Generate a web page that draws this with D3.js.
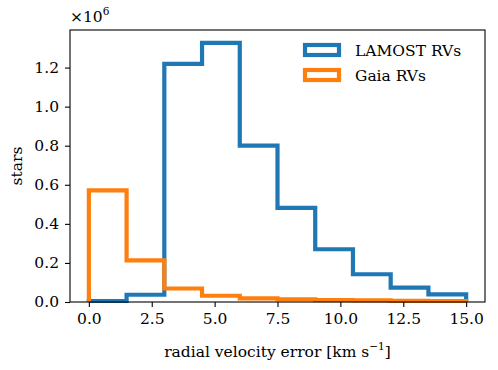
<!DOCTYPE html>
<html>
<head>
<meta charset="utf-8">
<script src="https://cdn.jsdelivr.net/npm/d3@7"></script>
<style>
  body { margin: 0; background: #fff; }
</style>
</head>
<body>
<div id="chart"></div>
<script>
// bin edges (km/s) and counts in units of 1e6 stars
const binEdges = [0, 1.5, 3, 4.5, 6, 7.5, 9, 10.5, 12, 13.5, 15];
const lamostCounts = [0.005, 0.037, 1.219, 1.326, 0.800, 0.482, 0.270, 0.142, 0.074, 0.039];
const gaiaCounts = [0.571, 0.213, 0.069, 0.032, 0.019, 0.014, 0.010, 0.008, 0.006, 0.005];
const seriesNames = ['LAMOST RVs', 'Gaia RVs'];
const seriesColors = ['#1f77b4', '#ff7f0e'];
const xTicks = [0, 2.5, 5, 7.5, 10, 12.5, 15];
const yTicks = [0, 0.2, 0.4, 0.6, 0.8, 1.0, 1.2];

const FONT = '"DejaVu Serif", "Liberation Serif", serif';
const FS = 15.5;
const width = 498, height = 370;
const margin = { top: 30, right: 13, bottom: 68, left: 70 };

const svg = d3.select('#chart')
    .append('svg')
    .attr('width', width)
    .attr('height', height)
    .style('font-family', FONT);

const x = d3.scaleLinear()
    .domain([-0.75, 15.75])
    .range([margin.left, width - margin.right]);

const yMax = d3.max(lamostCounts.concat(gaiaCounts)) * 1.05;
const y = d3.scaleLinear()
    .domain([0, yMax])
    .range([height - margin.bottom, margin.top]);

// step outline like matplotlib histtype='step'
function stepPoints(counts) {
    const pts = [[binEdges[0], 0]];
    counts.forEach((c, i) => {
        pts.push([binEdges[i], c]);
        pts.push([binEdges[i + 1], c]);
    });
    pts.push([binEdges[binEdges.length - 1], 0]);
    return pts;
}

const line = d3.line()
    .x(d => x(d[0]))
    .y(d => y(d[1]));

const plot = svg.append('g');
[lamostCounts, gaiaCounts].forEach((counts, i) => {
    plot.append('path')
        .attr('d', line(stepPoints(counts)))
        .attr('fill', 'none')
        .attr('stroke', seriesColors[i])
        .attr('stroke-width', 4.2)
        .attr('stroke-linejoin', 'miter');
});

// axes
const xAxis = svg.append('g')
    .attr('transform', `translate(0,${height - margin.bottom})`)
    .call(d3.axisBottom(x).tickValues(xTicks).tickFormat(d3.format('.1f')).tickSize(5).tickPadding(6));
const yAxis = svg.append('g')
    .attr('transform', `translate(${margin.left},0)`)
    .call(d3.axisLeft(y).tickValues(yTicks).tickFormat(d3.format('.1f')).tickSize(5).tickPadding(6));

[xAxis, yAxis].forEach(a => {
    a.attr('font-family', null).style('font-family', FONT).attr('font-size', FS);
    a.select('.domain').remove();
    a.selectAll('.tick line').attr('stroke', '#000').attr('stroke-width', 1.1);
    a.selectAll('.tick text').attr('fill', '#000');
});

// frame
svg.append('rect')
    .attr('x', margin.left)
    .attr('y', margin.top)
    .attr('width', width - margin.left - margin.right)
    .attr('height', height - margin.top - margin.bottom)
    .attr('fill', 'none')
    .attr('stroke', '#000')
    .attr('stroke-width', 1.1);

// offset text
const off = svg.append('text')
    .attr('x', margin.left)
    .attr('y', 22)
    .attr('font-size', FS);
off.append('tspan').text('×10');
off.append('tspan').attr('font-size', 10.5).attr('dy', -7).text('6');

// axis labels
svg.append('text')
    .attr('x', x(7.5))
    .attr('y', 357)
    .attr('text-anchor', 'middle')
    .attr('font-size', FS)
    .call(t => {
        t.append('tspan').text('radial velocity error [km s');
        t.append('tspan').attr('font-size', 10.5).attr('dy', -7).text('−1');
        t.append('tspan').attr('dy', 7).text(']');
    });

svg.append('text')
    .attr('transform', `translate(22,${(margin.top + height - margin.bottom) / 2}) rotate(-90)`)
    .attr('text-anchor', 'middle')
    .attr('font-size', FS)
    .text('stars');

// legend
const legend = svg.append('g')
    .selectAll('g')
    .data(seriesNames)
    .enter()
    .append('g')
    .attr('transform', (d, i) => `translate(305,${45 + i * 25})`);

legend.append('rect')
    .attr('width', 34)
    .attr('height', 10)
    .attr('fill', 'none')
    .attr('stroke', (d, i) => seriesColors[i])
    .attr('stroke-width', 4.2);

legend.append('text')
    .attr('x', 50)
    .attr('y', 11)
    .attr('font-size', FS)
    .text(d => d);
</script>
</body>
</html>
